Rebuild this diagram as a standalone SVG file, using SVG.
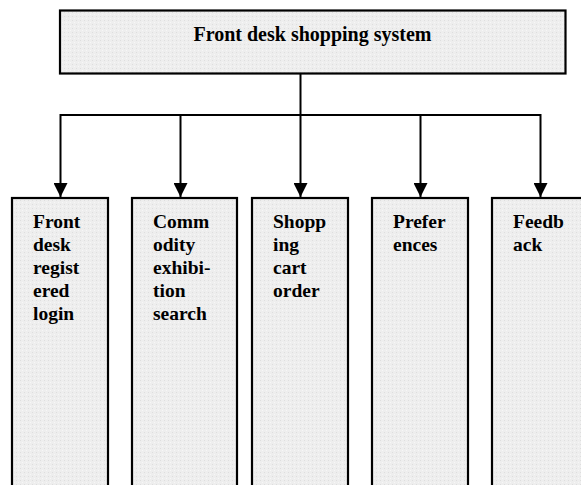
<svg xmlns="http://www.w3.org/2000/svg" width="581" height="485" viewBox="0 0 581 485">
<defs>
<pattern id="dots" width="4" height="4" patternUnits="userSpaceOnUse">
<rect width="4" height="4" fill="#eeeeee"/>
<rect x="0" y="0" width="1" height="1" fill="#dedede"/>
<rect x="2" y="2" width="1" height="1" fill="#f7f7f7"/>
</pattern>
<marker id="arr" markerWidth="15" markerHeight="14" refX="15" refY="7.5" orient="auto" markerUnits="userSpaceOnUse" viewBox="0 0 15 15">
<path d="M0,0 L15,7.5 L0,15 Z" fill="#000"/>
</marker>
<style>
.box{fill:url(#dots);stroke:#000;stroke-width:2.2}
.t{font-family:"Liberation Serif","Times New Roman",serif;font-weight:bold;font-size:19.5px;fill:#000}
.title{font-size:20px}
.c{fill:none;stroke:#000;stroke-width:2}
</style>
</defs>
<g id="root">
<rect class="box" x="60" y="10.5" width="505.5" height="63"/>
<text class="t title" x="312.5" y="41" text-anchor="middle">Front desk shopping system</text>
</g>
<g id="connectors">
<path class="c" d="M300.5,74 V115"/>
<path class="c" d="M60.5,115 H540.5"/>
<path class="c" d="M60.5,114 V197" marker-end="url(#arr)"/>
<path class="c" d="M180.5,115 V197" marker-end="url(#arr)"/>
<path class="c" d="M300.5,115 V197" marker-end="url(#arr)"/>
<path class="c" d="M420.5,115 V197" marker-end="url(#arr)"/>
<path class="c" d="M540.5,114 V197" marker-end="url(#arr)"/>
</g>
<g id="n1">
<rect class="box" x="12" y="198" width="96" height="310"/>
<text class="t" x="33" y="228">Front<tspan x="33" dy="23">desk</tspan><tspan x="33" dy="23">regist</tspan><tspan x="33" dy="23">ered</tspan><tspan x="33" dy="23">login</tspan></text>
</g>
<g id="n2">
<rect class="box" x="132" y="198" width="105" height="310"/>
<text class="t" x="153" y="228">Comm<tspan x="153" dy="23">odity</tspan><tspan x="153" dy="23">exhibi-</tspan><tspan x="153" dy="23">tion</tspan><tspan x="153" dy="23">search</tspan></text>
</g>
<g id="n3">
<rect class="box" x="252" y="198" width="96" height="310"/>
<text class="t" x="273" y="228">Shopp<tspan x="273" dy="23">ing</tspan><tspan x="273" dy="23">cart</tspan><tspan x="273" dy="23">order</tspan></text>
</g>
<g id="n4">
<rect class="box" x="372" y="198" width="96" height="310"/>
<text class="t" x="393" y="228">Prefer<tspan x="393" dy="23">ences</tspan></text>
</g>
<g id="n5">
<rect class="box" x="492" y="198" width="96" height="310"/>
<text class="t" x="513" y="228">Feedb<tspan x="513" dy="23">ack</tspan></text>
</g>
</svg>
